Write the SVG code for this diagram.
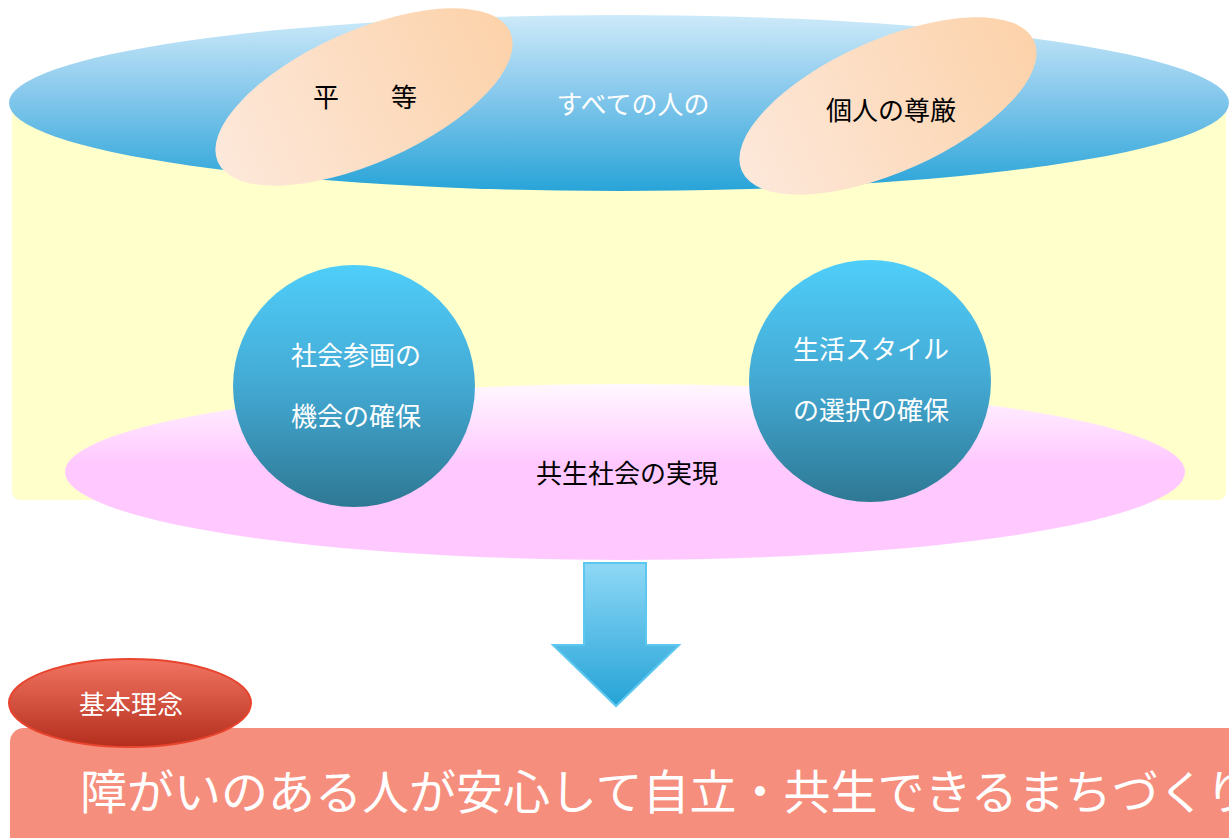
<svg xmlns="http://www.w3.org/2000/svg" width="1229" height="838" viewBox="0 0 1229 838">
<defs>
<linearGradient id="gBlue" x1="0" y1="0" x2="0" y2="1">
<stop offset="0" stop-color="#cdeaf9"/><stop offset="0.45" stop-color="#86c8ec"/><stop offset="1" stop-color="#28a4d8"/>
</linearGradient>
<linearGradient id="gPeach" x1="0" y1="0" x2="1" y2="0">
<stop offset="0" stop-color="#fde8da"/><stop offset="1" stop-color="#fcd2aa"/>
</linearGradient>
<linearGradient id="gPink" x1="0" y1="0" x2="0" y2="1">
<stop offset="0" stop-color="#fff8ff"/><stop offset="0.45" stop-color="#ffc9ff"/><stop offset="1" stop-color="#ffc9ff"/>
</linearGradient>
<linearGradient id="gCircle" x1="0" y1="0" x2="0" y2="1">
<stop offset="0" stop-color="#4fcefa"/><stop offset="0.5" stop-color="#43a9d3"/><stop offset="1" stop-color="#2e7894"/>
</linearGradient>
<linearGradient id="gArrow" x1="0" y1="0" x2="0" y2="1">
<stop offset="0" stop-color="#8ed8f6"/><stop offset="1" stop-color="#25a3d7"/>
</linearGradient>
<linearGradient id="gRed" x1="0" y1="0" x2="0" y2="1">
<stop offset="0" stop-color="#f27462"/><stop offset="1" stop-color="#b42e1c"/>
</linearGradient>
<style>
.t{font-family:"Noto Sans CJK JP","Noto Sans",sans-serif;text-anchor:middle;font-size:26px}
.blk{fill:#000}
.wht{fill:#fff}
</style>
</defs>
<rect x="0" y="0" width="1229" height="838" fill="#fff"/>
<g id="background">
<rect x="12" y="95" width="1214" height="405" rx="8" fill="#ffffcc"/>
</g>
<g id="top-ellipse">
<ellipse cx="619" cy="103" rx="610" ry="88" fill="url(#gBlue)"/>
<text class="t wht" x="633" y="114">すべての人の</text>
</g>
<g id="equality">
<ellipse cx="364" cy="97" rx="160" ry="66" transform="rotate(-24 364 97)" fill="url(#gPeach)"/>
<text class="t blk" x="365" y="107">平　　等</text>
</g>
<g id="dignity">
<ellipse cx="888" cy="106" rx="160" ry="66" transform="rotate(-24 888 106)" fill="url(#gPeach)"/>
<text class="t blk" x="891" y="120">個人の尊厳</text>
</g>
<g id="symbiosis">
<ellipse cx="625" cy="472" rx="560" ry="88" fill="url(#gPink)"/>
<text class="t blk" x="627" y="483">共生社会の実現</text>
</g>
<g id="participation">
<circle cx="354" cy="386" r="121" fill="url(#gCircle)"/>
<text class="t wht" x="356" y="365">社会参画の</text>
<text class="t wht" x="356" y="426">機会の確保</text>
</g>
<g id="lifestyle">
<circle cx="870" cy="381" r="121" fill="url(#gCircle)"/>
<text class="t wht" x="871" y="359">生活スタイル</text>
<text class="t wht" x="871" y="420">の選択の確保</text>
</g>
<g id="connectors">
<path d="M584 563 H646 V645 H679 L616 706 L553 645 H584 Z" fill="url(#gArrow)" stroke="#5cc8f0" stroke-width="2"/>
</g>
<g id="principle">
<rect x="10" y="728" width="1240" height="130" rx="14" fill="#f68e7d"/>
<text class="t wht" x="80" y="809" font-size="47" style="text-anchor:start;font-size:47px">障がいのある人が安心して自立・共生できるまちづくり</text>
</g>
<g id="label">
<ellipse cx="130" cy="703" rx="121" ry="44" fill="url(#gRed)" stroke="#e8442e" stroke-width="2"/>
<text class="t wht" x="131" y="714">基本理念</text>
</g>
</svg>
